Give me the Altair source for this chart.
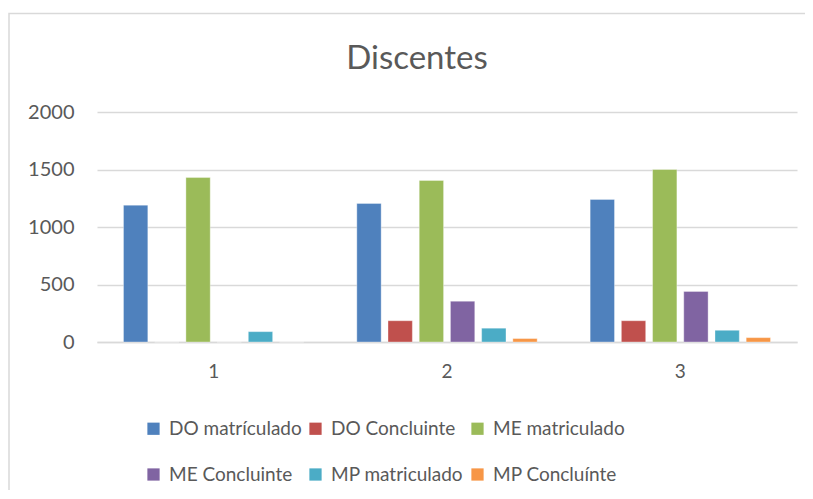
import altair as alt
import pandas as pd

groups = ["1", "2", "3"]
series = ["DO matrículado", "DO Concluinte", "ME matriculado",
          "ME Concluinte", "MP matriculado", "MP Concluínte"]
colors = ["#4F81BD", "#C0504D", "#9BBB59", "#8064A2", "#4BACC6", "#F79646"]
vals_g1 = [1190, 0, 1430, 0, 90, 0]
vals_g2 = [1205, 185, 1405, 355, 120, 30]
vals_g3 = [1240, 185, 1500, 440, 102, 38]
y_ticks = [0, 500, 1000, 1500, 2000]
chart_title = "Discentes"

rows = []
for g, vals in zip(groups, [vals_g1, vals_g2, vals_g3]):
    for s, v in zip(series, vals):
        rows.append({"grupo": g, "serie": s, "valor": v})
df = pd.DataFrame(rows)

FONT = "Lato"
GRAY = "#595959"
GRID = "#D9D9D9"

bars = alt.Chart(df).mark_bar(stroke="#FFFFFF", strokeOpacity=0.35, strokeWidth=1).encode(
    x=alt.X("grupo:N", sort=groups, title=None,
            scale=alt.Scale(paddingInner=0.227, paddingOuter=0.1135),
            axis=alt.Axis(labelAngle=0, ticks=False, domain=True, domainColor=GRID,
                          domainWidth=1.5, labelFontSize=19, labelColor=GRAY,
                          labelFont=FONT, labelPadding=20, grid=False)),
    xOffset=alt.XOffset("serie:N", sort=series,
                        scale=alt.Scale(paddingInner=0.22, paddingOuter=0)),
    y=alt.Y("valor:Q", title=None,
            scale=alt.Scale(domain=[0, 2000], nice=False),
            axis=alt.Axis(values=y_ticks, format="d", ticks=False, domain=False,
                          gridColor=GRID, gridWidth=1.5, labelFontSize=20,
                          labelColor=GRAY, labelFont=FONT, labelPadding=23)),
    color=alt.Color("serie:N", sort=series,
                    scale=alt.Scale(domain=series, range=colors),
                    legend=alt.Legend(title=None, orient="none", legendX=47, legendY=307,
                                      direction="horizontal", columns=3,
                                      symbolType="square", symbolSize=150,
                                      symbolStrokeWidth=0, labelFontSize=19,
                                      labelColor=GRAY, labelFont=FONT, labelOffset=6,
                                      rowPadding=26, columnPadding=4, padding=0,
                                      labelLimit=300)),
)

border = alt.Chart(pd.DataFrame({"a": [0]})).mark_rect(
    fill=None, stroke=GRID, strokeWidth=1.5
).encode(
    x=alt.value(-88), x2=alt.value(1500), y=alt.value(-98.5), y2=alt.value(1000)
)

title = alt.Chart(pd.DataFrame({"t": [chart_title]})).mark_text(
    font=FONT, fontSize=33, color=GRAY, align="center", baseline="alphabetic"
).encode(
    text="t:N", x=alt.value(320), y=alt.value(-43)
)

chart = alt.layer(border, bars, title).properties(
    width=700, height=230,
    background="#FFFFFF",
    autosize=alt.AutoSizeParams(type="none"),
    padding={"left": 89, "top": 104, "right": 8, "bottom": 148},
).configure_view(stroke="transparent", strokeWidth=0)

chart.save("out.html", embed_options={"renderer": "svg", "actions": False})
